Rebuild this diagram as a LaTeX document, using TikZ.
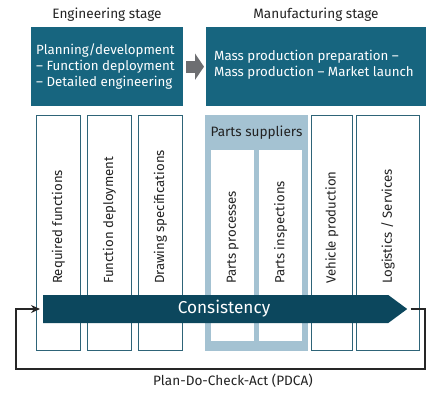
\documentclass[tikz,border=0pt]{standalone}
\usepackage{fontspec}
\setmainfont{Fira Sans}
\usetikzlibrary{arrows.meta,shapes.arrows,positioning}
\definecolor{stagecol}{HTML}{17657F}
\definecolor{conscol}{HTML}{0C475D}
\definecolor{colline}{HTML}{2E6478}
\definecolor{suppcol}{HTML}{A4C2D2}
\definecolor{arrowgray}{HTML}{6D6E71}
\definecolor{headcol}{HTML}{222222}

\tikzset{
	stagebox/.style={fill=stagecol, anchor=north west, inner sep=0pt, minimum height=79pt},
	stagetext/.style={text=white, align=left, anchor=west, inner sep=0pt, font=\fontsize{13.3}{15.8}\selectfont},
	head/.style={text=headcol, inner sep=0pt, font=\fontsize{13.6}{15}\selectfont},
	col/.style={draw=colline, line width=0.8pt, fill=white, anchor=north west, inner sep=0pt, minimum height=235pt},
	inner col/.style={fill=white, anchor=north west, inner sep=0pt, minimum height=191pt},
	coltext/.style={rotate=90, anchor=west, inner sep=0pt, text=headcol, font=\fontsize{13.2}{15}\selectfont},
	loop/.style={line width=1.3pt, black!85, -{Stealth[length=9pt,width=8pt]}},
}

\begin{document}
\begin{tikzpicture}[x=1pt,y=-1pt]
	\useasboundingbox (0,0) rectangle (433,392);

	%%%%% STAGES %%%%%
	\node[head] (enghead) at (107,15) {Engineering stage};
	\node[head] (mfghead) at (316,15) {Manufacturing stage};

	\node[stagebox, minimum width=152pt] (eng) at (31,27) {};
	\node[stagetext] (engtxt) at ([xshift=5pt]eng.west) {Planning/development\\– Function deployment\\– Detailed engineering};

	\node[stagebox, minimum width=220pt] (mfg) at (206,27) {};
	\node[stagetext] (mfgtxt) at ([xshift=8pt,yshift=2pt]mfg.west) {Mass production preparation –\\Mass production – Market launch};

	\draw[line width=12pt, arrowgray, -{Triangle[length=9pt,width=26pt]}] ([xshift=3pt]eng.east) -- ([xshift=-2pt]mfg.west);

	%%%%% COLUMNS %%%%%
	\node[col, minimum width=44pt] (reqf) at (36,115) {};
	\node[col, minimum width=44pt] (fdep) at (87,115) {};
	\node[col, minimum width=44pt] (dspec) at (138,115) {};

	\node[fill=suppcol, anchor=north west, inner sep=0pt, minimum width=103pt, minimum height=236pt] (supp) at (205,115) {};
	\node[head] (supphead) at (256.5,133) {Parts suppliers};
	\node[inner col, minimum width=43pt] (pproc) at (211,150) {};
	\node[inner col, minimum width=43pt] (pinsp) at (259,150) {};

	\node[col, minimum width=41pt] (vprod) at (311,115) {};
	\node[col, minimum width=63pt] (logi) at (356,115) {};

	\node[coltext] (reqftxt) at (reqf.south |- 0,284) {Required functions};
	\node[coltext] (fdeptxt) at (fdep.south |- 0,284) {Function deployment};
	\node[coltext] (dspectxt) at (dspec.south |- 0,284) {Drawing specifications};
	\node[coltext] (pproctxt) at (pproc.south |- 0,284) {Parts processes};
	\node[coltext] (pinsptxt) at (pinsp.south |- 0,284) {Parts inspections};
	\node[coltext] (vprodtxt) at (vprod.south |- 0,284) {Vehicle production};
	\node[coltext] (logitxt) at (logi.south |- 0,284) {Logistics / Services};

	%%%%% CONSISTENCY + PDCA LOOP %%%%%
	\node[single arrow, fill=conscol, inner sep=0pt,
		minimum height=364pt, minimum width=28pt,
		single arrow head extend=0pt, single arrow tip angle=73,
		anchor=tail] (cons) at (43,309) {};
	\node[text=white, inner sep=0pt, font=\fontsize{17.2}{20}\selectfont] (constxt) at (224,309) {Consistency};

	\coordinate (loopR) at (425,369);
	\coordinate (loopL) at (16,369);
	\draw[loop] ([xshift=3pt]cons.tip) -| (loopR) -| ([xshift=-27pt]cons.tail) -- ([xshift=-3pt]cons.tail);

	\node[head, font=\fontsize{13.6}{15}\selectfont] (pdca) at (233,381) {Plan-Do-Check-Act (PDCA)};
\end{tikzpicture}
\end{document}
